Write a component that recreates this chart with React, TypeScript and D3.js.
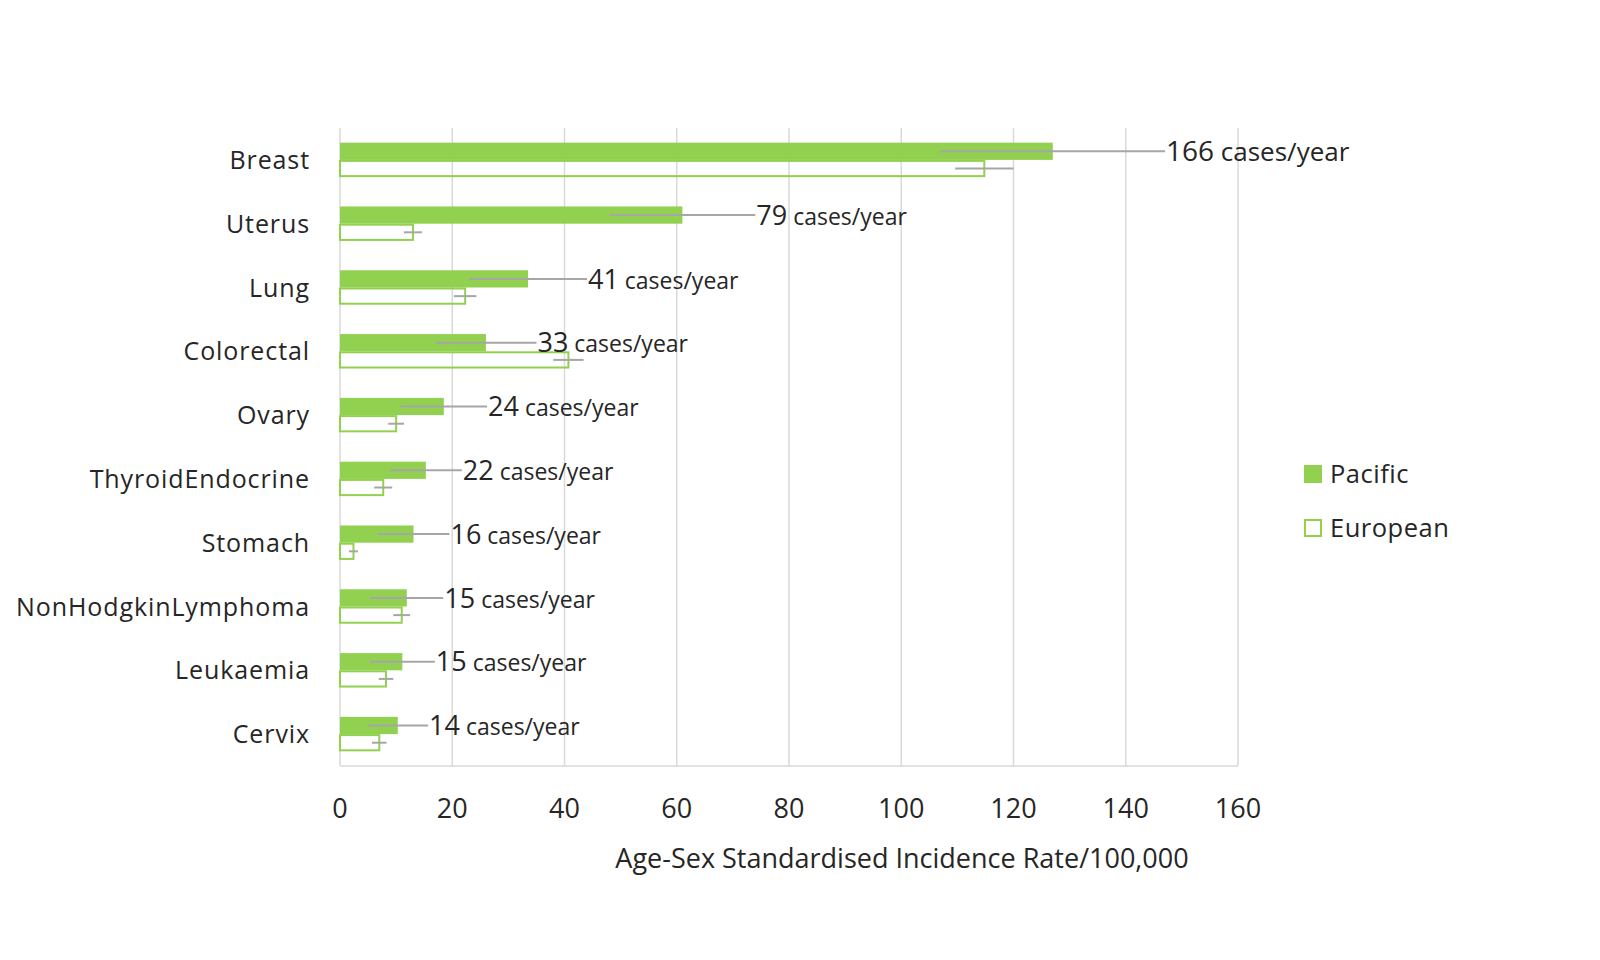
import React from "react";
import * as d3 from "d3";

const categories = [
  "Breast",
  "Uterus",
  "Lung",
  "Colorectal",
  "Ovary",
  "ThyroidEndocrine",
  "Stomach",
  "NonHodgkinLymphoma",
  "Leukaemia",
  "Cervix",
];
const pacific = [127, 61, 33.5, 26, 18.5, 15.3, 13.1, 11.9, 11.1, 10.3];
const pacificErr = [20, 13, 10.5, 9, 7.7, 6.4, 6.4, 6.5, 5.8, 5.4];
const european = [114.8, 13, 22.3, 40.7, 10, 7.7, 2.4, 11, 8.2, 7];
const europeanErr = [5.2, 1.6, 2, 2.7, 1.4, 1.6, 0.8, 1.5, 1.3, 1.3];
const casesNumber = ["166", "79", "41", "33", "24", "22", "16", "15", "15", "14"];
const casesUnit = " cases/year";
const xTicks = [0, 20, 40, 60, 80, 100, 120, 140, 160];
const seriesNames = ["Pacific", "European"];
const xTitle = "Age-Sex Standardised Incidence Rate/100,000";

const GREEN = "#92d050";
const GRID = "#d9d9d9";
const ERR = "#a6a6a6";
const TEXT = "#262626";
const FONT = "'Open Sans', Lato, sans-serif";

export default function App() {
  const left = 340;
  const right = 1238;
  const top = 128;
  const bottom = 766;

  const x = d3.scaleLinear().domain([0, 160]).range([left, right]);
  const y = d3
    .scaleBand<string>()
    .domain(categories)
    .range([top, bottom])
    .paddingInner(0.46)
    .paddingOuter(0.23);
  const sub = d3
    .scaleBand<string>()
    .domain(seriesNames)
    .range([0, y.bandwidth()]);

  return (
    <svg
      width={1600}
      height={960}
      style={{ position: "absolute", left: 0, top: 0, background: "#fff" }}
      fontFamily={FONT}
    >
      {xTicks.map((t) => (
        <line
          key={"g" + t}
          x1={x(t)}
          x2={x(t)}
          y1={top}
          y2={bottom}
          stroke={GRID}
          strokeWidth={1.5}
        />
      ))}
      <line x1={left} x2={right} y1={bottom} y2={bottom} stroke={GRID} strokeWidth={1.5} />

      {categories.map((c, i) => {
        const y0 = y(c)!;
        const py = y0 + sub("Pacific")!;
        const ey = y0 + sub("European")!;
        const h = sub.bandwidth();
        const pc = py + h / 2;
        const ec = ey + h / 2;
        const hi = pacific[i] + pacificErr[i];
        const big = i === 0;
        return (
          <g key={c}>
            <rect x={x(0)} y={py} width={x(pacific[i]) - x(0)} height={h} fill={GREEN} />
            <rect
              x={x(0)}
              y={ey + 1}
              width={x(european[i]) - x(0)}
              height={h - 2}
              fill="none"
              stroke={GREEN}
              strokeWidth={2}
            />
            <line
              x1={x(pacific[i] - pacificErr[i])}
              x2={x(hi)}
              y1={pc}
              y2={pc}
              stroke={ERR}
              strokeWidth={2}
            />
            <line
              x1={x(european[i] - europeanErr[i])}
              x2={x(european[i] + europeanErr[i])}
              y1={ec}
              y2={ec}
              stroke={ERR}
              strokeWidth={2}
            />
            <text x={x(hi) + 1} y={pc} dy="0.36em" fill={TEXT} fontSize={big ? 28 : 27}>
              {casesNumber[i]}
              <tspan fontSize={big ? 26 : 23}>{casesUnit}</tspan>
            </text>
            <text
              x={310}
              y={y0 + y.bandwidth() / 2}
              dy="0.36em"
              textAnchor="end"
              fill={TEXT}
              fontSize={25}
              letterSpacing={0.9}
            >
              {c}
            </text>
          </g>
        );
      })}

      {xTicks.map((t) => (
        <text
          key={"t" + t}
          x={x(t)}
          y={808}
          dy="0.36em"
          textAnchor="middle"
          fill={TEXT}
          fontSize={27}
        >
          {t}
        </text>
      ))}
      <text x={902} y={858} dy="0.36em" textAnchor="middle" fill={TEXT} fontSize={27}>
        {xTitle}
      </text>

      {seriesNames.map((s, i) => (
        <g key={s} transform={`translate(1304, ${465 + i * 54})`}>
          {i === 0 ? (
            <rect x={0} y={0} width={18} height={18} fill={GREEN} />
          ) : (
            <rect x={1} y={1} width={16} height={16} fill="#fff" stroke={GREEN} strokeWidth={2} />
          )}
          <text x={26} y={9} dy="0.36em" fill={TEXT} fontSize={25.5} letterSpacing={0.5}>
            {s}
          </text>
        </g>
      ))}
    </svg>
  );
}
